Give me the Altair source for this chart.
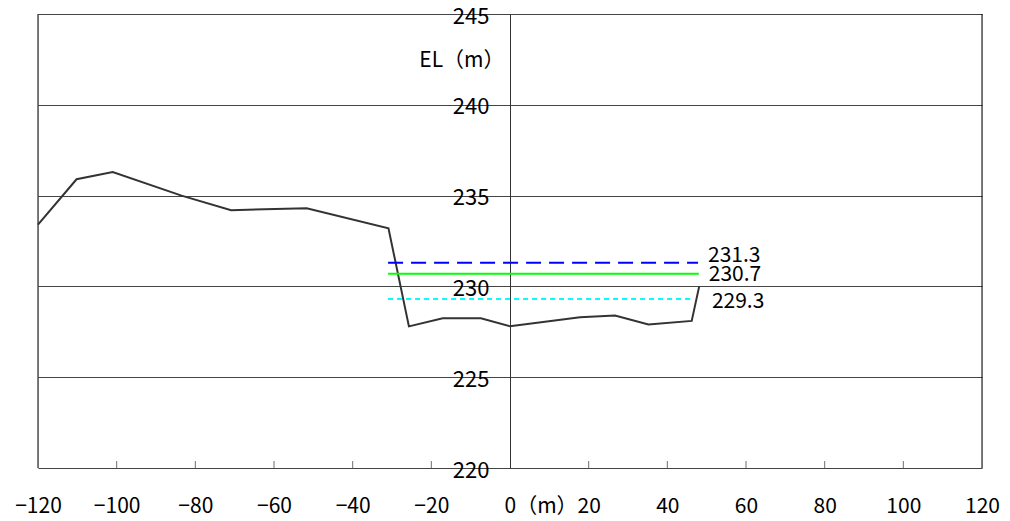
import altair as alt
import pandas as pd

# ---- data ----
terrain_x = [-120, -110.2, -101, -83.5, -70.9, -51.7, -30.9, -25.7, -17.1, -7.4, 0, 17.8, 26.7, 35.2, 46.2, 48.1]
terrain_y = [233.4, 235.9, 236.3, 235.0, 234.2, 234.3, 233.2, 227.8, 228.25, 228.25, 227.8, 228.3, 228.4, 227.9, 228.1, 230.0]

levels = [231.3, 230.7, 229.3]
level_labels = ["231.3", "230.7", "229.3"]
level_x_start = [-31.0, -31.0, -31.0]
level_x_end = [47.8, 48.0, 46.5]

x_ticks = [-120, -100, -80, -60, -40, -20, 0, 20, 40, 60, 80, 100, 120]
minor_ticks = [-100, -80, -60, -40, -20, 20, 40, 60, 80, 100]
y_ticks = [220, 225, 230, 235, 240, 245]
x_edges = [-120, 120]

# ---- styles ----
FONT = "Noto Sans CJK JP"
level_colors = ["#0000FF", "#00FF00", "#00FFFF"]
level_dash = [[15, 8], [1, 0], [5, 4]]
label_dx = [10, 10, 19]
label_dy = [-7, 1.5, 3]

xscale = alt.Scale(domain=[-120, 120], nice=False, zero=False)
yscale = alt.Scale(domain=[220, 245], nice=False, zero=False)

terrain_df = pd.DataFrame({"x": terrain_x, "y": terrain_y})

base_x = alt.X(
    "x:Q",
    scale=xscale,
    axis=alt.Axis(
        values=x_ticks,
        grid=False,
        ticks=False,
        domain=False,
        title=None,
        labelFont=FONT,
        labelFontSize=21,
        labelColor="#000",
        labelPadding=38,
        labelBaseline="middle",
        labelExpr="datum.value == 0 ? '0（m）' : datum.label",
        labelAlign={"condition": {"test": "datum.value == 0", "value": "left"}, "value": "center"},
        labelOffset={"condition": {"test": "datum.value == 0", "value": -6}, "value": 0},
        labelOverlap=False,
        labelBound=False,
        labelFlush=False,
    ),
)
base_y = alt.Y(
    "y:Q",
    scale=yscale,
    axis=alt.Axis(
        values=y_ticks,
        grid=True,
        gridColor="#444",
        gridOpacity=1,
        gridWidth=1,
        ticks=False,
        domain=True,
        domainColor="#333",
        domainWidth=1,
        offset=-472,
        labelFont=FONT,
        labelFontSize=22,
        labelColor="#000",
        labelPadding=21,
        labelBaseline="middle",
        labelOffset=2,
        labelOverlap=False,
        labelFlush=False,
        title="EL（m）",
        titleFont=FONT,
        titleFontSize=21,
        titleFontWeight="normal",
        titleColor="#000",
        titleAngle=0,
        titleAlign="right",
        titleBaseline="middle",
        titleX=-6,
        titleY=46,
    ),
)

terrain = alt.Chart(terrain_df).mark_line(color="#333333", strokeWidth=2).encode(
    x=base_x, y=base_y
)

edges = (
    alt.Chart(pd.DataFrame({"x": x_edges}))
    .mark_rule(color="#000", strokeWidth=1)
    .encode(x=alt.X("x:Q", scale=xscale))
)

layers = [edges, terrain]
for i, lv in enumerate(levels):
    df = pd.DataFrame({"x": [level_x_start[i], level_x_end[i]], "y": [lv, lv]})
    layers.append(
        alt.Chart(df)
        .mark_line(color=level_colors[i], strokeWidth=2, strokeDash=level_dash[i])
        .encode(x=alt.X("x:Q", scale=xscale), y=alt.Y("y:Q", scale=yscale))
    )
    tdf = pd.DataFrame({"x": [level_x_end[i]], "y": [lv], "t": [level_labels[i]]})
    layers.append(
        alt.Chart(tdf)
        .mark_text(
            align="left",
            baseline="middle",
            dx=label_dx[i],
            dy=label_dy[i],
            font=FONT,
            fontSize=21,
            color="#000",
        )
        .encode(x=alt.X("x:Q", scale=xscale), y=alt.Y("y:Q", scale=yscale), text="t:N")
    )

tick_df = pd.DataFrame({"x": minor_ticks})
ticks = (
    alt.Chart(tick_df)
    .mark_tick(color="#333", size=7, thickness=1, yOffset=-3.5)
    .encode(x=alt.X("x:Q", scale=xscale), y=alt.datum(220, scale=yscale))
)
layers.append(ticks)

chart = (
    alt.layer(*layers)
    .properties(
        width=944,
        height=454,
        autosize=alt.AutoSizeParams(type="none"),
        padding={"left": 30, "top": 6, "right": 20, "bottom": 53},
    )
    .configure_view(stroke="#000", strokeWidth=1)
    .configure(background="white")
)

chart.save("out.html", embed_options={"renderer": "svg", "actions": False})
